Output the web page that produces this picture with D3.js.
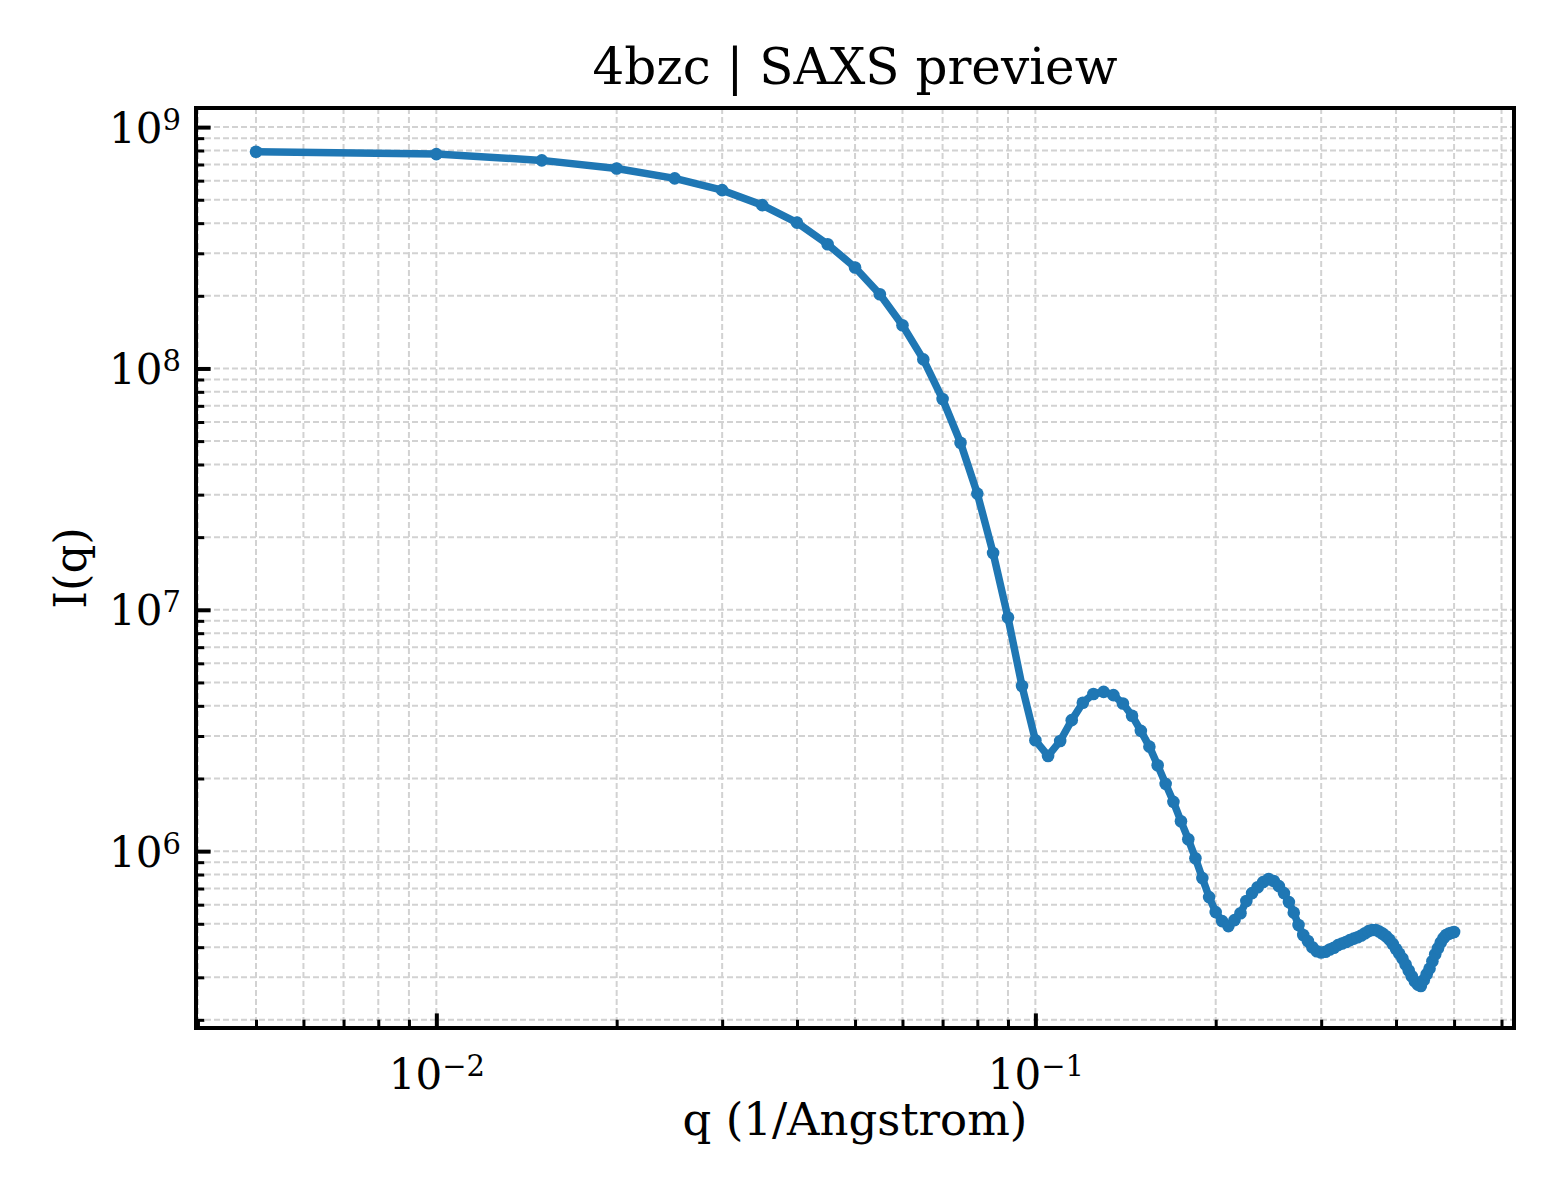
<!DOCTYPE html>
<html>
<head>
<meta charset="utf-8">
<script src="https://cdn.jsdelivr.net/npm/d3@7"></script>
<style>
  body { margin: 0; background: #fff; }
  svg { font-family: "DejaVu Serif", serif; }
  .grid line { stroke: #d2d2d2; stroke-width: 2; stroke-dasharray: 6 3; }
  .axis path { display: none; }
  .axis line { stroke: #000; }
  .axis text { font-family: "DejaVu Serif", serif; fill: #000; }
</style>
</head>
<body>
<div class="container"></div>
<script>
const W = 1560, H = 1200;
const margin = {top: 108, right: 46, bottom: 172, left: 196};
const width = W - margin.left - margin.right;
const height = H - margin.top - margin.bottom;

// q (1/Angstrom)
const qValues = [
  0.005, 0.010, 0.015, 0.020, 0.025, 0.030, 0.035, 0.040, 0.045, 0.050,
  0.055, 0.060, 0.065, 0.070, 0.075, 0.080, 0.085, 0.090, 0.095, 0.100,
  0.105, 0.110, 0.115, 0.120, 0.125, 0.130, 0.135, 0.140, 0.145, 0.150,
  0.155, 0.160, 0.165, 0.170, 0.175, 0.180, 0.185, 0.190, 0.195, 0.200,
  0.205, 0.210, 0.215, 0.220, 0.225, 0.230, 0.235, 0.240, 0.245, 0.250,
  0.255, 0.260, 0.265, 0.270, 0.275, 0.280, 0.285, 0.290, 0.295, 0.300,
  0.305, 0.310, 0.315, 0.320, 0.325, 0.330, 0.335, 0.340, 0.345, 0.350,
  0.355, 0.360, 0.365, 0.370, 0.375, 0.380, 0.385, 0.390, 0.395, 0.400,
  0.405, 0.410, 0.415, 0.420, 0.425, 0.430, 0.435, 0.440, 0.445, 0.450,
  0.455, 0.460, 0.465, 0.470, 0.475, 0.480, 0.485, 0.490, 0.495, 0.500
];

// I(q)
const intensity = [
  7.90e8, 7.73e8, 7.28e8, 6.74e8, 6.13e8, 5.48e8, 4.75e8, 4.02e8, 3.27e8, 2.62e8,
  2.03e8, 1.51e8, 1.09e8, 7.47e7, 4.92e7, 3.03e7, 1.72e7, 9.29e6, 4.83e6, 2.88e6,
  2.48e6, 2.86e6, 3.49e6, 4.12e6, 4.48e6, 4.57e6, 4.43e6, 4.09e6, 3.64e6, 3.15e6,
  2.71e6, 2.27e6, 1.90e6, 1.60e6, 1.33e6, 1.12e6, 9.35e5, 7.73e5, 6.45e5, 5.59e5,
  5.13e5, 4.89e5, 5.18e5, 5.53e5, 6.21e5, 6.70e5, 7.09e5, 7.44e5, 7.66e5, 7.52e5,
  7.16e5, 6.70e5, 6.15e5, 5.56e5, 4.94e5, 4.49e5, 4.24e5, 4.00e5, 3.85e5, 3.80e5,
  3.83e5, 3.91e5, 3.98e5, 4.08e5, 4.14e5, 4.20e5, 4.28e5, 4.34e5, 4.40e5, 4.47e5,
  4.57e5, 4.66e5, 4.71e5, 4.71e5, 4.64e5, 4.55e5, 4.44e5, 4.30e5, 4.12e5, 3.93e5,
  3.76e5, 3.59e5, 3.39e5, 3.20e5, 3.03e5, 2.89e5, 2.80e5, 2.76e5, 2.92e5, 3.09e5,
  3.26e5, 3.50e5, 3.74e5, 3.96e5, 4.18e5, 4.36e5, 4.49e5, 4.55e5, 4.59e5, 4.62e5
];

const xDomain = [0.00397, 0.6295];
const yDomain = [1.85e5, 1.2e9];
const xMajor = [0.01, 0.1];
const xMajorExp = ["\u22122", "\u22121"];
const yMajor = [1e6, 1e7, 1e8, 1e9];
const yMajorExp = ["6", "7", "8", "9"];

const points = qValues.map((q, i) => ({q: q, I: intensity[i]}));

const svg = d3.select(".container")
  .append("svg")
    .attr("width", W)
    .attr("height", H);

const g = svg.append("g")
    .attr("transform", "translate(" + margin.left + "," + margin.top + ")");

const x = d3.scaleLog().domain(xDomain).range([0, width]);
const y = d3.scaleLog().domain(yDomain).range([height, 0]);

// all 1..9 multiples inside the domain, majors removed -> minors
const xMinor = x.ticks().filter(t => xMajor.indexOf(t) < 0);
const yMinor = y.ticks().filter(t => yMajor.every(m => Math.abs(m - t) / m > 1e-6));

// grid (major + minor, same dashed style)
const grid = g.append("g").classed("grid", true);
grid.selectAll(".gx")
  .data(xMajor.concat(xMinor))
  .enter().append("line")
    .attr("x1", d => x(d)).attr("x2", d => x(d))
    .attr("y1", 0).attr("y2", height);
grid.selectAll(".gy")
  .data(yMajor.concat(yMinor))
  .enter().append("line")
    .attr("y1", d => y(d)).attr("y2", d => y(d))
    .attr("x1", 0).attr("x2", width);

// axes, ticks pointing inward
const xAxisMajor = g.append("g")
  .classed("axis", true)
  .attr("transform", "translate(0," + height + ")")
  .call(d3.axisBottom(x).tickValues(xMajor).tickSize(-14.6).tickPadding(15).tickFormat(""));
const xAxisMinor = g.append("g")
  .classed("axis", true)
  .attr("transform", "translate(0," + height + ")")
  .call(d3.axisBottom(x).tickValues(xMinor).tickSize(-8.3).tickFormat(""));
const yAxisMajor = g.append("g")
  .classed("axis", true)
  .call(d3.axisLeft(y).tickValues(yMajor).tickSize(-14.6).tickPadding(15).tickFormat(""));
const yAxisMinor = g.append("g")
  .classed("axis", true)
  .call(d3.axisLeft(y).tickValues(yMinor).tickSize(-8.3).tickFormat(""));

xAxisMajor.selectAll("line").attr("stroke-width", 4);
yAxisMajor.selectAll("line").attr("stroke-width", 4);
xAxisMinor.selectAll("line").attr("stroke-width", 3);
yAxisMinor.selectAll("line").attr("stroke-width", 3);

// tick labels as 10^n
function powLabel(sel, exps) {
  sel.selectAll(".tick text").each(function(d, i) {
    const t = d3.select(this).text(null).style("font-size", "42px");
    t.append("tspan").text("10");
    t.append("tspan")
      .attr("dy", "-0.45em")
      .style("font-size", "29px")
      .text(exps[i]);
  });
}
powLabel(xAxisMajor, xMajorExp);
powLabel(yAxisMajor, yMajorExp);
xAxisMajor.selectAll(".tick text").attr("dy", "1.1em");
yAxisMajor.selectAll(".tick text").attr("dy", "0.36em");

// curve
g.append("path")
  .datum(points)
  .attr("fill", "none")
  .attr("stroke", "#1f77b4")
  .attr("stroke-width", 7.5)
  .attr("stroke-linejoin", "round")
  .attr("d", d3.line().x(d => x(d.q)).y(d => y(d.I)));

g.selectAll(".pt")
  .data(points)
  .enter().append("circle")
    .classed("pt", true)
    .attr("cx", d => x(d.q))
    .attr("cy", d => y(d.I))
    .attr("r", 6.3)
    .attr("fill", "#1f77b4");

// frame
g.append("rect")
  .attr("width", width)
  .attr("height", height)
  .attr("fill", "none")
  .attr("stroke", "#000")
  .attr("stroke-width", 4);

// texts
svg.append("text")
  .attr("x", margin.left + width / 2)
  .attr("y", 84)
  .attr("text-anchor", "middle")
  .style("font-size", "50px")
  .text("4bzc | SAXS preview");

svg.append("text")
  .attr("x", margin.left + width / 2)
  .attr("y", 1135)
  .attr("text-anchor", "middle")
  .style("font-size", "45px")
  .text("q (1/Angstrom)");

svg.append("text")
  .attr("transform", "translate(86," + (margin.top + height / 2) + ") rotate(-90)")
  .attr("text-anchor", "middle")
  .style("font-size", "45px")
  .text("I(q)");
</script>
</body>
</html>
